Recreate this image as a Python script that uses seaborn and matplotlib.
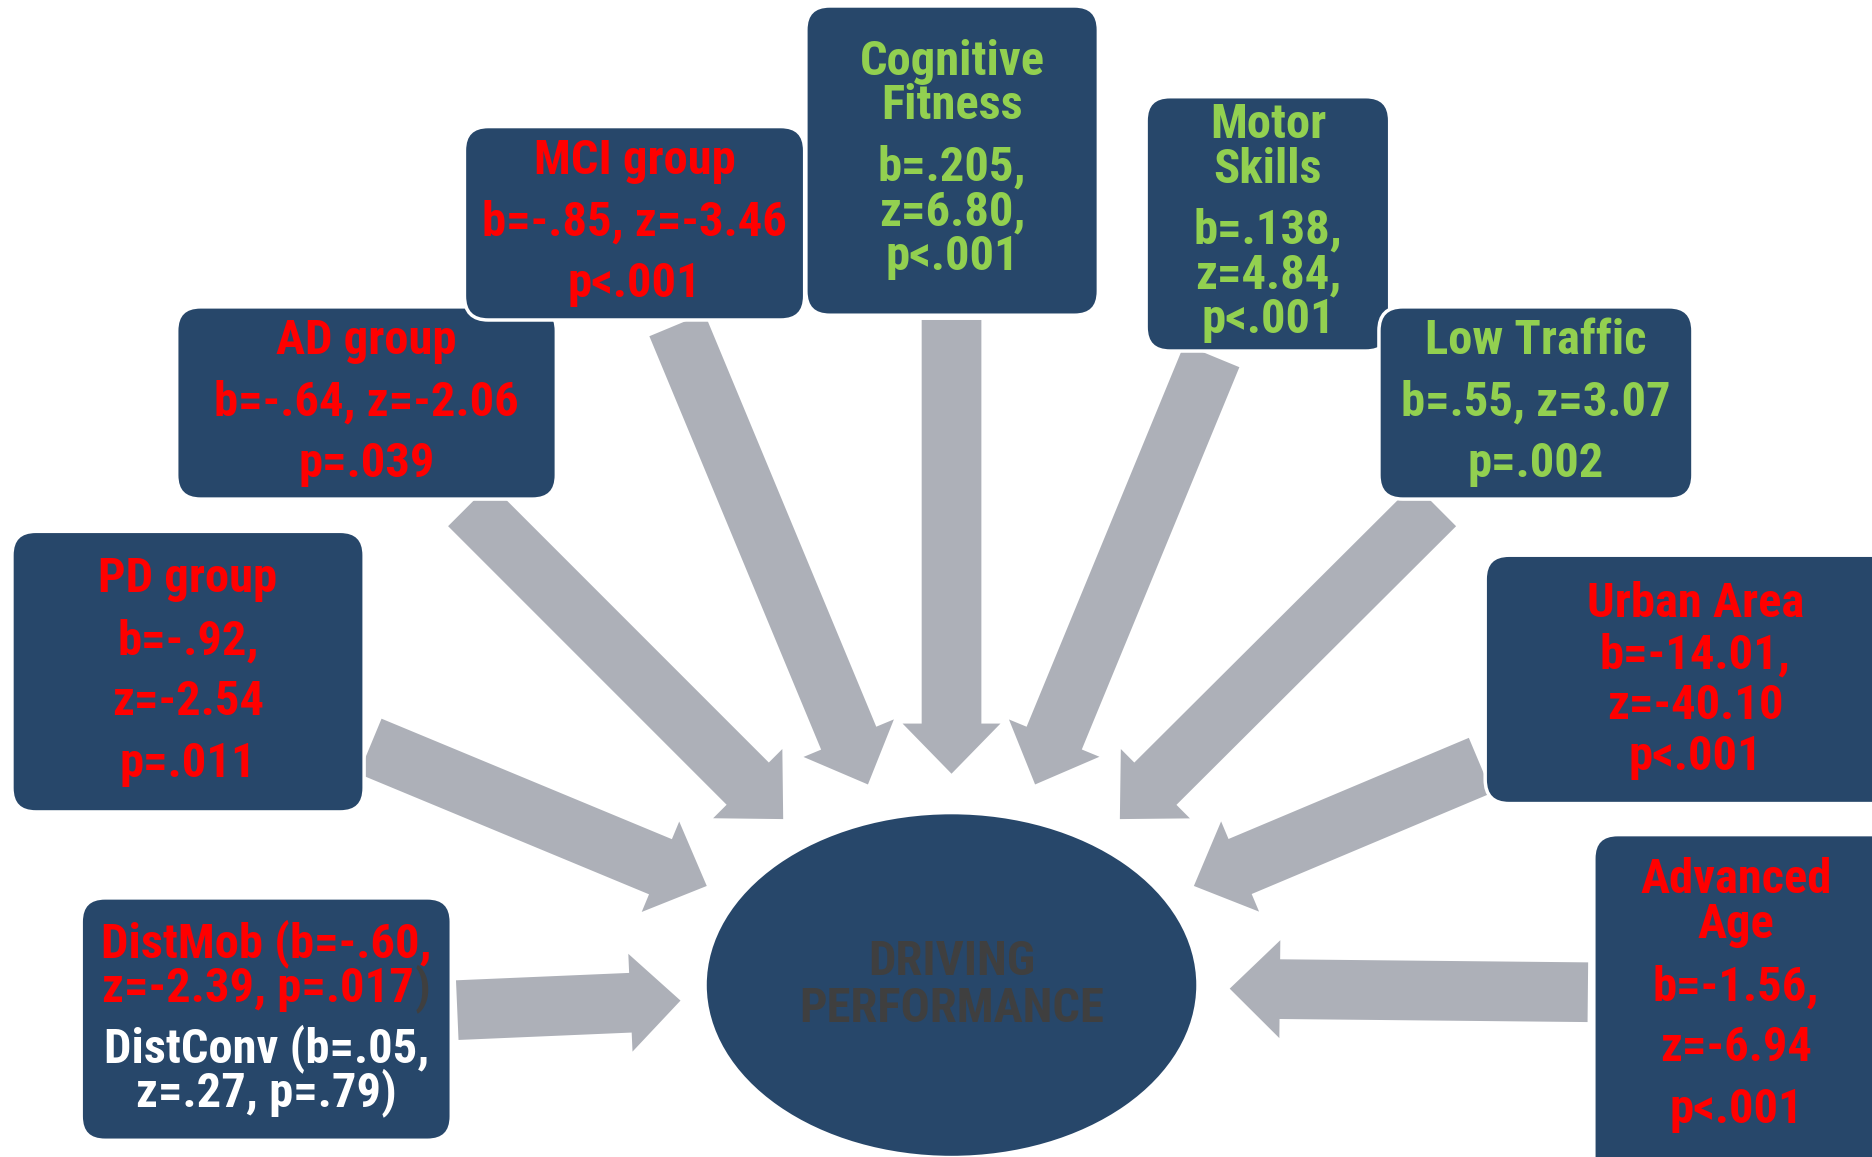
import matplotlib
matplotlib.use("Agg")
import matplotlib.pyplot as plt
from matplotlib.patches import FancyBboxPatch, Ellipse, FancyArrow
import seaborn as sns

# predictors of driving performance (model estimates)
factors = ["PD group", "AD group", "MCI group", "Cognitive Fitness",
           "Motor Skills", "Low Traffic", "Urban Area", "Advanced Age"]
b_vals = ["-.92", "-.64", "-.85", ".205", ".138", ".55", "-14.01", "-1.56"]
z_vals = ["-2.54", "-2.06", "-3.46", "6.80", "4.84", "3.07", "-40.10", "-6.94"]
p_vals = ["=.011", "=.039", "<.001", "<.001", "<.001", "=.002", "<.001", "<.001"]

# distraction conditions (shared box)
dist_names = ["DistMob", "DistConv"]
dist_b = ["-.60", ".05"]
dist_z = ["-2.39", ".27"]
dist_p = ["=.017", "=.79"]

outcome = ["DRIVING", "PERFORMANCE"]

# ---- layout (canvas units, y down) ----
W, H = 1568, 969
NAVY = "#27476a"
GREY = "#adb0b8"
RED = "#ff0000"
GREEN = "#92d050"
DARK = "#3f3f3f"
FS = 35

layout = {
    "PD group": dict(box=(10, 445, 305, 680), fmt=["{name}", "b={b},", "z={z}", "p{p}"],
                     ys=[485, 537, 588, 640], tail=(310, 625), tip=(592, 742)),
    "AD group": dict(box=(148, 257, 466, 418), fmt=["{name}", "b={b}, z={z}", "p{p}"],
                     ys=[286, 337, 389], tail=(393, 423), tip=(656, 686)),
    "MCI group": dict(box=(389, 106, 674, 268), fmt=["{name}", "b={b}, z={z}", "p{p}"],
                      ys=[135, 186, 238], tail=(567, 272), tip=(727, 657)),
    "Cognitive Fitness": dict(box=(675, 5, 920, 264), fmt=["{w0}", "{w1}", "b={b},", "z={z},", "p{p}"],
                              ys=[52, 89, 140, 178, 215], tail=(797, 268), tip=(797, 648)),
    "Motor Skills": dict(box=(960, 81, 1164, 294), fmt=["{w0}", "{w1}", "b={b},", "z={z},", "p{p}"],
                         ys=[105, 142, 193, 231, 268], tail=(1015, 298), tip=(867, 657)),
    "Low Traffic": dict(box=(1155, 257, 1418, 418), fmt=["{name}", "b={b}, z={z}", "p{p}"],
                        ys=[286, 337, 389], tail=(1202, 423), tip=(938, 686)),
    "Urban Area": dict(box=(1244, 465, 1590, 673), fmt=["{name}", "b={b},", "z={z}", "p{p}"],
                       ys=[506, 549, 591, 634], tail=(1240, 641), tip=(1000, 742), cx=1420),
    "Advanced Age": dict(box=(1335, 699, 1590, 990), fmt=["{w0}", "{w1}", "b={b},", "z={z}", "p{p}"],
                         ys=[737, 775, 827, 878, 930], tail=(1330, 831), tip=(1030, 828), cx=1454),
}
dist_box = (68, 752, 378, 955)
dist_ys = [790, 828, 878, 915]
dist_tail, dist_tip = (383, 846), (570, 838)

sns.set_theme(style="white")
plt.rcParams["font.family"] = ["Arial Narrow", "Liberation Sans Narrow", "Roboto Condensed",
                               "PT Sans Narrow", "Archivo Narrow", "Liberation Sans"]

fig = plt.figure(figsize=(18.72, 11.57), dpi=100)
ax = fig.add_axes([0, 0, 1, 1])
ax.set_xlim(0, W)
ax.set_ylim(H, 0)
ax.axis("off")


def draw_arrow(tail, tip):
    dx, dy = tip[0] - tail[0], tip[1] - tail[1]
    ax.add_patch(FancyArrow(tail[0], tail[1], dx, dy, width=50, head_width=82,
                            head_length=42, length_includes_head=True,
                            color=GREY, lw=0, zorder=1))


def draw_box(box):
    x0, y0, x1, y1 = box
    ax.add_patch(FancyBboxPatch((x0, y0), x1 - x0, y1 - y0,
                                boxstyle="round,pad=0,rounding_size=20",
                                facecolor=NAVY, edgecolor="white", lw=2.5, zorder=2))


for name, b, z, p in zip(factors, b_vals, z_vals, p_vals):
    lay = layout[name]
    draw_arrow(lay["tail"], lay["tip"])
    draw_box(lay["box"])
    words = name.split()
    colour = RED if b.startswith("-") else GREEN
    cx = lay.get("cx", (lay["box"][0] + lay["box"][2]) / 2)
    for tmpl, y in zip(lay["fmt"], lay["ys"]):
        txt = tmpl.format(name=name, b=b, z=z, p=p, w0=words[0], w1=words[-1])
        ax.text(cx, y, txt, color=colour, fontsize=FS, fontweight="bold",
                ha="center", va="center", zorder=3)

# distraction box
draw_arrow(dist_tail, dist_tip)
draw_box(dist_box)
dcx = (dist_box[0] + dist_box[2]) / 2
ax.text(dcx, dist_ys[0], f"{dist_names[0]} (b={dist_b[0]},", color=RED, fontsize=FS,
        fontweight="bold", ha="center", va="center", zorder=3)
# second line: red stats with a dark closing bracket, centred as a whole
tmp = ax.text(dcx, dist_ys[1], f"z={dist_z[0]}, p{dist_p[0]})", fontsize=FS,
              fontweight="bold", ha="center", va="center")
fig.canvas.draw()
bb = tmp.get_window_extent(fig.canvas.get_renderer())
left = ax.transData.inverted().transform((bb.x0, bb.y0))[0]
tmp.remove()
red_part = ax.text(left, dist_ys[1], f"z={dist_z[0]}, p{dist_p[0]}", color=RED, fontsize=FS,
                   fontweight="bold", ha="left", va="center", zorder=3)
ax.annotate(")", xy=(1, 0.5), xycoords=red_part, color=DARK, fontsize=FS,
            fontweight="bold", ha="left", va="center", zorder=3)
ax.text(dcx, dist_ys[2], f"{dist_names[1]} (b={dist_b[1]},", color="white", fontsize=FS,
        fontweight="bold", ha="center", va="center", zorder=3)
ax.text(dcx, dist_ys[3], f"z={dist_z[1]}, p{dist_p[1]})", color="white", fontsize=FS,
        fontweight="bold", ha="center", va="center", zorder=3)

# outcome ellipse
ax.add_patch(Ellipse((797, 825), 410, 286, facecolor=NAVY, edgecolor="none", zorder=2))
for txt, y in zip(outcome, [806, 845]):
    ax.text(797, y, txt, color=DARK, fontsize=FS, fontweight="bold",
            ha="center", va="center", zorder=3)

fig.savefig("out.png", dpi=100, facecolor="white")
